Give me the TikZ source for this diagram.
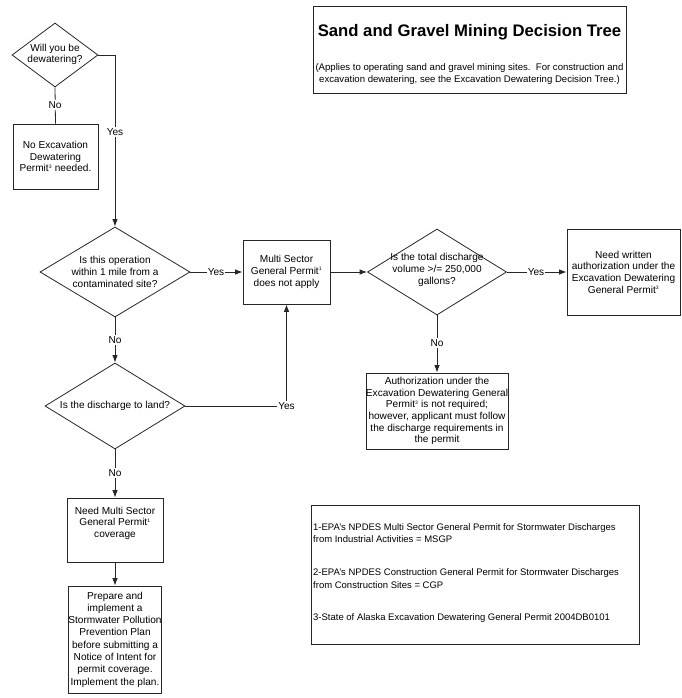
\documentclass[tikz,border=0pt]{standalone}
\usepackage{fontspec}
\setmainfont{Liberation Sans}
\usetikzlibrary{shapes.geometric,arrows.meta}
\begin{document}
\begin{tikzpicture}[x=1pt,y=-1pt,
  font=\fontsize{10.1}{11.7}\selectfont,
  line/.style={draw=black!85, line width=0.8pt},
  arr/.style={line, -{Latex[length=7.5pt,width=5.5pt]}},
  box/.style={draw=black!85, line width=0.8pt, rectangle, inner sep=0pt, align=center},
  dia/.style={draw=black!85, line width=0.8pt, diamond, inner sep=0pt},
  dtext/.style={align=center, inner sep=0pt},
  lbl/.style={fill=white, inner sep=1pt}
]
\useasboundingbox (0,0) rectangle (681,698);

% title box
\node[box, minimum width=313pt, minimum height=87pt] (title) at (469.5,49.5) {};
\node[font=\fontsize{16.7}{19}\selectfont\bfseries, inner sep=0pt] (ttext) at (469.5,32) {Sand and Gravel Mining Decision Tree};
\node[align=center, inner sep=0pt, font=\fontsize{9.6}{12}\selectfont] (stext) at (469.5,74.5) {(Applies to operating sand and gravel mining sites.\ \ For construction and\\excavation dewatering, see the Excavation Dewatering Decision Tree.)};

% diamonds
\node[dia, minimum width=86pt, minimum height=64pt] (d1) at (55,55) {};
\node[dtext] (d1t) at (55,54.5) {Will you be\\dewatering?};
\node[dia, minimum width=150pt, minimum height=90pt] (d2) at (115,272) {};
\node[dtext] (d2t) at (d2) {Is this operation\\within 1 mile from a\\contaminated site?};
\node[dia, minimum width=139pt, minimum height=86pt] (d3) at (437,272) {};
\node[dtext] (d3t) at (437,270) {Is the total discharge\\volume >/= 250,000\\gallons?};
\node[dia, minimum width=140pt, minimum height=86pt] (d4) at (115,406) {};
\node[dtext] (d4t) at (d4) {Is the discharge to land?};

% boxes
\node[box, minimum width=85pt, minimum height=65pt] (b1) at (55.5,156.5) {No Excavation\\Dewatering\\Permit\textsuperscript{\fontsize{5}{5}\selectfont 3} needed.};
\node[box, minimum width=87pt, minimum height=64pt] (b3) at (286.5,272) {Multi Sector\\General Permit\textsuperscript{\fontsize{5}{5}\selectfont 1}\\does not apply};
\node[box, minimum width=113pt, minimum height=86pt] (b4) at (623.5,272) {Need written\\authorization under the\\Excavation Dewatering\\General Permit\textsuperscript{\fontsize{5}{5}\selectfont 3}};
\node[box, minimum width=140pt, minimum height=76pt] (b5) at (437,411) {Authorization under the\\Excavation Dewatering General\\Permit\textsuperscript{\fontsize{5}{5}\selectfont 3} is not required;\\however, applicant must follow\\the discharge requirements in\\the permit};
\node[box, minimum width=96pt, minimum height=64pt] (b6) at (115,530) {Need Multi Sector\\General Permit\textsuperscript{\fontsize{5}{5}\selectfont 1}\\coverage\\[4pt]};
\node[box, minimum width=93pt, minimum height=107pt, font=\fontsize{10.1}{12.3}\selectfont] (b7) at (115,639.5) {Prepare and\\implement a\\Stormwater Pollution\\Prevention Plan\\before submitting a\\Notice of Intent for\\permit coverage.\\Implement the plan.};

% footnote box
\node[box, minimum width=328pt, minimum height=139pt] (fn) at (475,574.5) {};
\node[align=left, inner sep=0pt, anchor=north west, font=\fontsize{9.5}{12.5}\selectfont] (fnt) at (313,523) {1-EPA's NPDES Multi Sector General Permit for Stormwater Discharges\\from Industrial Activities = MSGP\\[20.5pt]2-EPA's NPDES Construction General Permit for Stormwater Discharges\\from Construction Sites = CGP\\[20pt]3-State of Alaska Excavation Dewatering General Permit 2004DB0101};

% connectors
\draw[line] (d1.south) -- (b1.north);
\node[lbl] (l1) at (55,105) {No};
\draw[arr] (d1.east) -| (d2.north);
\node[lbl] (l2) at (115,132) {Yes};

\draw[arr] (d2.east) -- (b3.west);
\node[lbl] (l3) at (216,272) {Yes};

\draw[arr] (b3.east) -- (d3.west);
\draw[arr] (d3.east) -- (b4.west);
\node[lbl] (l4) at (536,272) {Yes};

\draw[arr] (d3.south) -- (b5.north);
\node[lbl] (l5) at (437,343) {No};

\draw[arr] (d2.south) -- (d4.north);
\node[lbl] (l6) at (115,340) {No};

\coordinate (c1) at (286.5,406);
\draw[arr] (d4.east) -- (c1) -- (b3.south);
\node[lbl] (l7) at (c1) {Yes};

\draw[arr] (d4.south) -- (b6.north);
\node[lbl] (l8) at (115,473) {No};

\draw[arr] (b6.south) -- (b7.north);
\end{tikzpicture}
\end{document}
